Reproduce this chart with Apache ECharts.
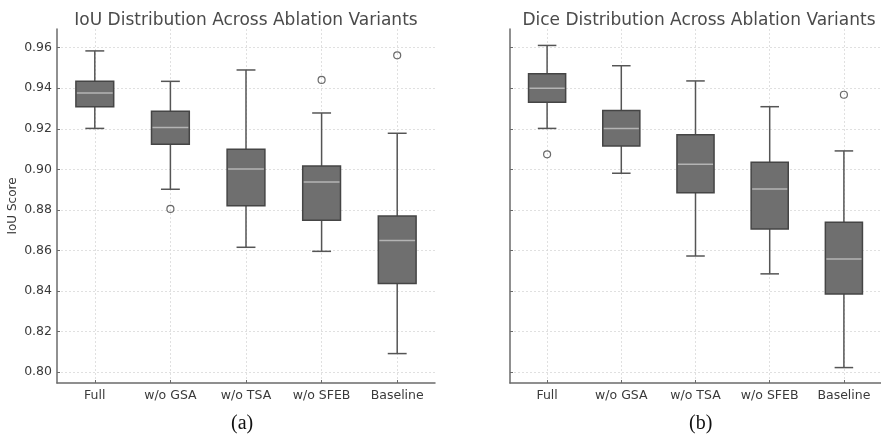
<!DOCTYPE html>
<html><head><meta charset="utf-8">
<script src="https://cdn.jsdelivr.net/npm/echarts@6/dist/echarts.min.js"></script>
<style>html,body{margin:0;padding:0;background:#fff}#c{width:881px;height:435px}</style>
</head><body><div id="c"></div>
<script>
const categories = ['Full', 'w/o GSA', 'w/o TSA', 'w/o SFEB', 'Baseline'];
const yTicks = [0.80, 0.82, 0.84, 0.86, 0.88, 0.90, 0.92, 0.94, 0.96];
// each row: [lower whisker, Q1, median, Q3, upper whisker]
const iouBoxes = [
  [0.9202, 0.9309, 0.9377, 0.9434, 0.9584],
  [0.8902, 0.9124, 0.9206, 0.9286, 0.9434],
  [0.8616, 0.8821, 0.9002, 0.9099, 0.9490],
  [0.8596, 0.8749, 0.8938, 0.9017, 0.9278],
  [0.8092, 0.8437, 0.8650, 0.8770, 0.9178]
];
const iouOutliers = [[1, 0.8805], [3, 0.9441], [4, 0.9562]];
const diceBoxes = [
  [0.9202, 0.9331, 0.9400, 0.9472, 0.9611],
  [0.8981, 0.9115, 0.9201, 0.9290, 0.9511],
  [0.8573, 0.8885, 0.9025, 0.9171, 0.9436],
  [0.8485, 0.8706, 0.8903, 0.9035, 0.9309],
  [0.8023, 0.8386, 0.8558, 0.8739, 0.9091]
];
const diceOutliers = [[0, 0.9074], [4, 0.9368]];

const FONT = 'DejaVu Sans';
const chart = echarts.init(document.getElementById('c'), null, {renderer: 'canvas'});

function renderBox(params, api) {
  const i = api.value(0);
  const lo = api.coord([i, api.value(1)]);
  const q1 = api.coord([i, api.value(2)]);
  const md = api.coord([i, api.value(3)]);
  const q3 = api.coord([i, api.value(4)]);
  const hi = api.coord([i, api.value(5)]);
  const band = api.size([1, 0])[0];
  const bw = band * 0.5, cw = band * 0.25;
  const x = lo[0];
  const ws = {stroke: '#555555', lineWidth: 1.5};
  return {type: 'group', children: [
    {type: 'line', shape: {x1: x, y1: lo[1], x2: x, y2: q1[1]}, style: ws},
    {type: 'line', shape: {x1: x, y1: q3[1], x2: x, y2: hi[1]}, style: ws},
    {type: 'line', shape: {x1: x - cw / 2, y1: lo[1], x2: x + cw / 2, y2: lo[1]}, style: ws},
    {type: 'line', shape: {x1: x - cw / 2, y1: hi[1], x2: x + cw / 2, y2: hi[1]}, style: ws},
    {type: 'rect', shape: {x: x - bw / 2, y: q3[1], width: bw, height: q1[1] - q3[1]},
      style: {fill: '#6f6f6f', stroke: '#454545', lineWidth: 1.5}},
    {type: 'line', shape: {x1: x - bw / 2 + 1, y1: md[1], x2: x + bw / 2 - 1, y2: md[1]},
      style: {stroke: '#b4b4b4', lineWidth: 1.5}}
  ]};
}

const gridLine = {show: true, lineStyle: {color: '#d9d9d9', width: 0.8, type: [2, 2]}};
function xAxisFor(gi) {
  return {
    type: 'category', gridIndex: gi, data: categories, boundaryGap: true,
    axisLine: {show: true, lineStyle: {color: '#6b6b6b', width: 1.5}},
    axisTick: {show: true, inside: true, length: 3, alignWithLabel: true, lineStyle: {color: '#6b6b6b'}},
    axisLabel: {interval: 0, color: '#3a3a3a', fontFamily: FONT, fontSize: 12.5, margin: 6},
    splitLine: Object.assign({alignWithLabel: true}, gridLine)
  };
}
function yAxisFor(gi, labels) {
  return {
    type: 'value', gridIndex: gi, min: 0.7947, max: 0.9692,
    axisLine: {show: true, lineStyle: {color: '#6b6b6b', width: 1.5}},
    axisTick: {show: true, inside: true, length: 3, customValues: yTicks, lineStyle: {color: '#6b6b6b'}},
    axisLabel: {show: labels, customValues: yTicks, color: '#3a3a3a', fontFamily: FONT, fontSize: 12.5, margin: 5,
      formatter: v => v.toFixed(2)},
    splitLine: gridLine,
    name: labels ? 'IoU Score' : '', nameLocation: 'middle', nameGap: 38,
    nameTextStyle: {color: '#3a3a3a', fontFamily: FONT, fontSize: 12}
  };
}
const outlierStyle = {color: 'rgba(0,0,0,0)', borderColor: '#454545', borderWidth: 1.2};

chart.setOption({
  animation: false,
  backgroundColor: '#fff',
  title: [
    {text: 'IoU Distribution Across Ablation Variants', left: 241, top: 7, textAlign: 'center',
      textStyle: {fontFamily: FONT, fontSize: 17, fontWeight: 'normal', color: '#4a4a4a'}},
    {text: 'Dice Distribution Across Ablation Variants', left: 694, top: 7, textAlign: 'center',
      textStyle: {fontFamily: FONT, fontSize: 17, fontWeight: 'normal', color: '#4a4a4a'}}
  ],
  grid: [
    {left: 57, top: 29, width: 378, height: 354},
    {left: 510, top: 29, width: 378, height: 354}
  ],
  xAxis: [xAxisFor(0), xAxisFor(1)],
  yAxis: [yAxisFor(0, true), yAxisFor(1, false)],
  graphic: [
    {type: 'text', left: 231, top: 414, style: {text: '(a)', font: '20px "Liberation Serif"', fill: '#111', textAlign: 'center'}},
    {type: 'text', left: 689, top: 414, style: {text: '(b)', font: '20px "Liberation Serif"', fill: '#111', textAlign: 'center'}}
  ],
  series: [
    {type: 'custom', xAxisIndex: 0, yAxisIndex: 0, renderItem: renderBox, z: 3,
      encode: {x: 0, y: [1, 2, 3, 4, 5]}, data: iouBoxes.map((b, i) => [i].concat(b))},
    {type: 'scatter', xAxisIndex: 0, yAxisIndex: 0, symbol: 'circle', symbolSize: 7, z: 4,
      itemStyle: outlierStyle, data: iouOutliers},
    {type: 'custom', xAxisIndex: 1, yAxisIndex: 1, renderItem: renderBox, z: 3,
      encode: {x: 0, y: [1, 2, 3, 4, 5]}, data: diceBoxes.map((b, i) => [i].concat(b))},
    {type: 'scatter', xAxisIndex: 1, yAxisIndex: 1, symbol: 'circle', symbolSize: 7, z: 4,
      itemStyle: outlierStyle, data: diceOutliers}
  ]
});
</script></body></html>
